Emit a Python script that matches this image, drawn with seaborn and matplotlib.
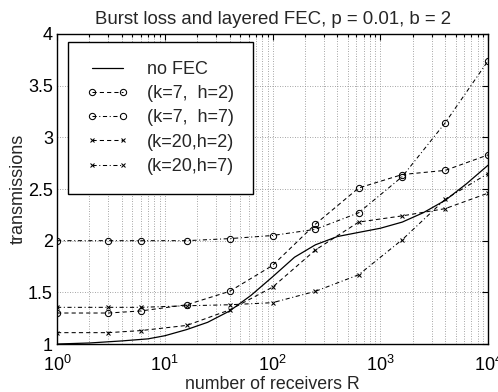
import numpy as np
import pandas as pd
import matplotlib
matplotlib.use("Agg")
import matplotlib.pyplot as plt
import matplotlib.ticker as mticker
import seaborn as sns

# ---- data ----
R_marks = [1, 3, 6, 16, 40, 100, 250, 630, 1600, 4000, 10000]
k7_h2 = [1.30, 1.30, 1.32, 1.38, 1.51, 1.76, 2.16, 2.51, 2.64, 2.68, 2.83]
k7_h7 = [2.00, 2.00, 2.00, 2.00, 2.02, 2.05, 2.11, 2.27, 2.62, 3.14, 3.74]
k20_h2 = [1.11, 1.11, 1.13, 1.18, 1.33, 1.55, 1.91, 2.18, 2.24, 2.31, 2.46]
k20_h7 = [1.355, 1.355, 1.355, 1.37, 1.38, 1.40, 1.51, 1.67, 2.01, 2.40, 2.65]

R_nofec = [1, 2, 4, 7, 10, 16, 25, 40, 63, 100, 160, 250, 400, 630, 1000,
           1600, 2500, 4000, 6300, 10000]
nofec = [1.00, 1.01, 1.03, 1.05, 1.08, 1.14, 1.21, 1.32, 1.47, 1.65, 1.84,
         1.96, 2.04, 2.08, 2.12, 2.18, 2.27, 2.39, 2.55, 2.73]

labels = ["no FEC", "(k=7,  h=2)", "(k=7,  h=7)", "(k=20,h=2)", "(k=20,h=7)"]
title = "Burst loss and layered FEC, p = 0.01, b = 2"
xlabel = "number of receivers R"
ylabel = "transmissions"

sns.set_style("white")
plt.rcParams["font.family"] = ["Liberation Sans", "DejaVu Sans"]
plt.rcParams["mathtext.fontset"] = "custom"
plt.rcParams["mathtext.rm"] = "Liberation Sans"
plt.rcParams["mathtext.it"] = "Liberation Sans:italic"
plt.rcParams["mathtext.default"] = "regular"

fig = plt.figure(figsize=(4.98, 3.92), dpi=100)
ax = fig.add_axes([0.1145, 0.1224, 0.8655, 0.7909])

df0 = pd.DataFrame({"R": R_nofec, "y": nofec})
sns.lineplot(data=df0, x="R", y="y", ax=ax, color="black", lw=0.9,
             label=labels[0], estimator=None, sort=False)

styles = [
    (k7_h2, labels[1], (0, (4, 3)), "o"),
    (k7_h7, labels[2], (0, (4, 2.5, 1, 2.5)), "o"),
    (k20_h2, labels[3], (0, (4, 3)), "x"),
    (k20_h7, labels[4], (0, (4, 2.5, 1, 2.5)), "x"),
]
for vals, lab, ls, mk in styles:
    d = pd.DataFrame({"R": R_marks, "y": vals})
    if mk == "o":
        sns.lineplot(data=d, x="R", y="y", ax=ax, color="black", lw=0.75,
                     linestyle=ls, marker="o", markersize=4.5,
                     markerfacecolor="none", markeredgecolor="black",
                     markeredgewidth=0.75, label=lab, estimator=None, sort=False)
    else:
        sns.lineplot(data=d, x="R", y="y", ax=ax, color="black", lw=0.75,
                     linestyle=ls, marker="x", markersize=3.5,
                     markeredgecolor="black", markeredgewidth=0.75,
                     label=lab, estimator=None, sort=False)

ax.set_xscale("log")
ax.set_xlim(1, 10000)
ax.set_ylim(1, 4)
ax.set_yticks([1, 1.5, 2, 2.5, 3, 3.5, 4])
ax.yaxis.set_major_formatter(mticker.FuncFormatter(lambda v, p: "%g" % v))
ax.xaxis.set_major_locator(mticker.LogLocator(base=10, numticks=10))
ax.xaxis.set_minor_locator(mticker.LogLocator(base=10, subs=np.arange(2, 10), numticks=20))
ax.xaxis.set_minor_formatter(mticker.NullFormatter())

ax.grid(True, which="major", axis="both", color="#888888", linestyle=(0, (1, 2)), lw=0.6)
ax.grid(True, which="minor", axis="x", color="#888888", linestyle=(0, (1, 2)), lw=0.6)

ax.tick_params(which="both", direction="in", top=True, right=True,
               labelsize=13, length=4, width=0.8, colors="black", pad=3)
ax.tick_params(axis="x", which="major", pad=8)
ax.tick_params(which="minor", length=2)
for s in ax.spines.values():
    s.set_visible(True)
    s.set_color("black")
    s.set_linewidth(1.0)

ax.set_title(title, fontsize=13.4, pad=7)
ax.set_xlabel(xlabel, fontsize=12.8)
ax.xaxis.set_label_coords(0.5, -0.104)
ax.set_ylabel(ylabel, fontsize=13, labelpad=1)

leg = ax.legend(loc="upper left", bbox_to_anchor=(0.0255, 0.974), fontsize=13,
                frameon=True, fancybox=False, edgecolor="black", framealpha=1,
                numpoints=2, handlelength=2.3, handletextpad=1.0,
                borderpad=1.05, labelspacing=0.4, borderaxespad=0)
leg.get_frame().set_linewidth(1.0)

fig.savefig("out.png", dpi=100)
